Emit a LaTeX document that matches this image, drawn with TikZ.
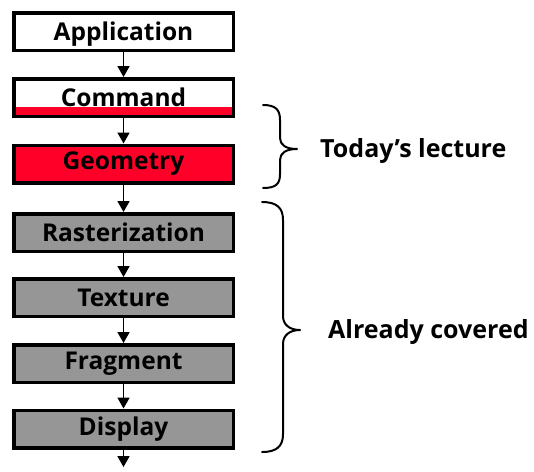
\documentclass[tikz,border=0pt]{standalone}
\usepackage{fontspec}
\setmainfont{Open Sans}
\usetikzlibrary{arrows.meta}
\definecolor{cred}{HTML}{FF0028}
\definecolor{cgray}{HTML}{969696}
\tikzset{
  stage/.style={draw=black, line width=3.5pt, minimum width=219.5pt, minimum height=37.5pt,
    inner sep=0pt, font=\fontsize{24.5}{27}\selectfont\bfseries, text=black},
  flow/.style={line width=1.8pt, -{Triangle[width=12pt,length=11pt]}},
  bracestyle/.style={line width=2pt, line cap=round, line join=round},
  lbl/.style={font=\fontsize{25}{28}\selectfont\bfseries, anchor=base west, inner sep=0pt}
}
\begin{document}
\begin{tikzpicture}[x=1pt,y=-1pt]
\useasboundingbox (0,0) rectangle (534,471);
\node[stage, fill=white, text depth=0pt] (app) at (123.5,31.5) {Application};
\node[stage, fill=white, path picture={\fill[cred] ([yshift=9.5pt]path picture bounding box.south west) rectangle (path picture bounding box.south east);}] (cmd) at (123.5,97.5) {Command};
\node[stage, fill=cred] (geo) at (123.5,164) {Geometry};
\node[stage, fill=cgray] (ras) at (123.5,232.5) {Rasterization};
\node[stage, fill=cgray] (tex) at (123.5,297.5) {Texture};
\node[stage, fill=cgray] (frag) at (123.5,363.5) {Fragment};
\node[stage, fill=cgray] (disp) at (123.5,429) {Display};
\coordinate (out) at (123.5,467);
\draw[flow] (app) -- (cmd);
\draw[flow] (cmd) -- (geo);
\draw[flow] (geo) -- (ras);
\draw[flow] (ras) -- (tex);
\draw[flow] (tex) -- (frag);
\draw[flow] (frag) -- (disp);
\draw[flow] (disp) -- (out);
\draw[bracestyle] (263,105) .. controls (276,105) and (280,110) .. (280,120) -- (280,138) .. controls (280,145) and (286,149) .. (297,149) .. controls (286,149) and (280,153) .. (280,160) -- (280,174) .. controls (280,184) and (276,188) .. (263,188);
\draw[bracestyle] (262,202) .. controls (277,202) and (283,208) .. (283,220) -- (283,316) .. controls (283,325) and (290,330) .. (300,330) .. controls (290,330) and (283,335) .. (283,344) -- (283,434) .. controls (283,446) and (277,452) .. (262,452);
\node[lbl] (today) at (320,157) {Today’s lecture};
\node[lbl] (already) at (328,338) {Already covered};
\end{tikzpicture}
\end{document}
